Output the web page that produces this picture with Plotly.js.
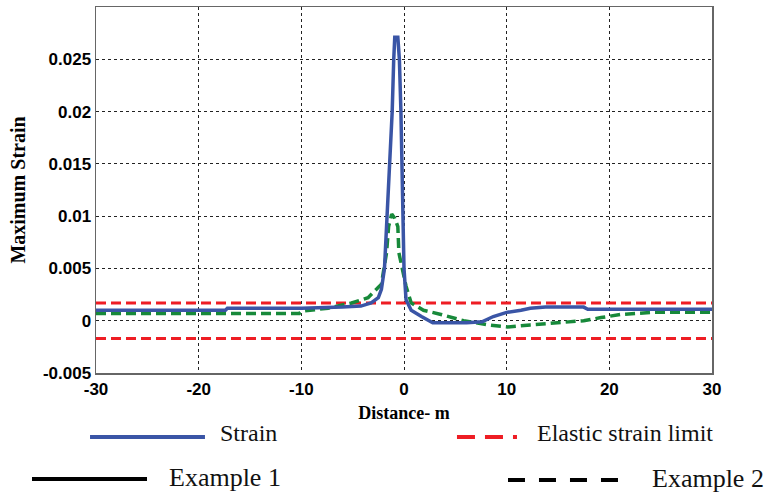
<!DOCTYPE html>
<html>
<head>
<meta charset="utf-8">
<script src="https://cdn.plot.ly/plotly-3.0.1.min.js"></script>
<style>html,body{margin:0;padding:0;background:#fff;}#chart{width:767px;height:492px;}</style>
</head>
<body>
<div id="chart"></div>
<script>
// Example 1 strain (blue solid)
const ex1Distance = [-30, -17.4, -17.2, -10, -6, -4.2, -3.2, -2.5, -2.2, -1.9, -1.65, -1.4, -1.15, -1.0, -0.9, -0.6, -0.45, -0.3, -0.2, -0.1, 0.0, 0.2, 0.7, 1.7, 2.8, 6.1, 7.6, 8.7, 10, 11.4, 12.3, 13.8, 17.5, 17.9, 30];
const ex1Strain   = [0.001, 0.001, 0.0012, 0.0012, 0.0013, 0.0014, 0.0017, 0.0022, 0.003, 0.005, 0.01, 0.015, 0.02, 0.025, 0.0271, 0.0271, 0.025, 0.02, 0.015, 0.01, 0.005, 0.002, 0.001, 0.0004, -0.0002, -0.0002, -0.0001, 0.0004, 0.0008, 0.001, 0.0012, 0.0013, 0.0013, 0.0011, 0.0011];
// Example 2 strain (green dashed)
const ex2Distance = [-30, -10.2, -10, -7.4, -5.1, -3.5, -2.2, -1.7, -1.5, -1.2, -0.9, -0.6, -0.5, -0.1, 0.2, 0.7, 1.9, 3.6, 5.8, 8.2, 10.1, 12.3, 14.6, 17.5, 19.2, 21.1, 24.3, 30];
const ex2Strain   = [0.0007, 0.0007, 0.0009, 0.0012, 0.0017, 0.0022, 0.0035, 0.0065, 0.009, 0.0102, 0.0098, 0.009, 0.0065, 0.0046, 0.0033, 0.0017, 0.001, 0.0006, 0, -0.0004, -0.0006, -0.0004, -0.0002, 0, 0.0003, 0.0006, 0.0008, 0.0008];
// Elastic strain limits
const limitDistance = [-30, 30];
const elasticLimits = [0.0017, -0.0017];
// Axis ticks
const xTickVals = [-30, -20, -10, 0, 10, 20, 30];
const xTickText = ['-30', '-20', '-10', '0', '10', '20', '30'];
const yTickVals = [-0.005, 0, 0.005, 0.01, 0.015, 0.02, 0.025];
const yTickText = ['-0.005', '0', '0.005', '0.01', '0.015', '0.02', '0.025'];
// Legend labels
const legendLabels = ['Strain', 'Elastic strain limit', 'Example 1', 'Example 2'];

const BLUE = '#3a55a6', GREEN = '#17893a', RED = '#ee1d24';

const traces = [];
elasticLimits.forEach(v => {
  traces.push({x: limitDistance, y: [v, v], mode: 'lines', showlegend: false,
    line: {color: RED, width: 3, dash: '10px,5px'}, hoverinfo: 'skip'});
});
traces.push({x: ex2Distance, y: ex2Strain, mode: 'lines', name: 'Example 2', showlegend: false,
  line: {color: GREEN, width: 3.5, dash: '10px,5px'}});
traces.push({x: ex1Distance, y: ex1Strain, mode: 'lines', name: 'Example 1', showlegend: false,
  line: {color: BLUE, width: 3.5}});

// legend (manual, in paper coordinates)
const legendItems = [
  {label: legendLabels[0], color: BLUE, dash: 'solid', x0: -0.0097, x1: 0.1769, y: -0.1749, tx: 0.198, ty: -0.1639, size: 24},
  {label: legendLabels[1], color: RED, dash: '18px,10px', x0: 0.586, x1: 0.6834, y: -0.1749, tx: 0.7127, ty: -0.1639, size: 24},
  {label: legendLabels[2], color: '#000', dash: 'solid', x0: -0.1039, x1: 0.0828, y: -0.2896, tx: 0.1153, ty: -0.2842, size: 26},
  {label: legendLabels[3], color: '#000', dash: '17px,14px', x0: 0.6688, x1: 0.8555, y: -0.2923, tx: 0.8994, ty: -0.2869, size: 26}
];
const shapes = legendItems.map(it => ({type: 'line', xref: 'paper', yref: 'paper',
  x0: it.x0, x1: it.x1, y0: it.y, y1: it.y, line: {color: it.color, width: 4, dash: it.dash}}));
const annotations = legendItems.map(it => ({xref: 'paper', yref: 'paper', x: it.tx, y: it.ty,
  xanchor: 'left', yanchor: 'middle', showarrow: false, text: it.label,
  font: {family: 'Liberation Serif, Times New Roman, serif', size: it.size, color: '#111'}}));

const tickFont = {family: 'Liberation Sans, Arial, sans-serif', size: 17, color: '#000', weight: 'bold'};
const titleFont = {family: 'Liberation Serif, Times New Roman, serif', size: 18, color: '#000', weight: 'bold'};

const layout = {
  width: 767, height: 492,
  margin: {l: 96, r: 55, t: 7, b: 119},
  paper_bgcolor: '#fff', plot_bgcolor: '#fff',
  showlegend: false,
  xaxis: {
    range: [-30, 30], tickvals: xTickVals, ticktext: xTickText,
    tickfont: tickFont, ticks: '', zeroline: false,
    showgrid: true, gridcolor: '#222', gridwidth: 1, griddash: '3px,3px',
    showline: true, linecolor: '#666', linewidth: 1.5, mirror: true,
    title: {text: 'Distance- m', font: titleFont, standoff: 8}
  },
  yaxis: {
    range: [-0.005, 0.03], tickvals: yTickVals, ticktext: yTickText,
    tickfont: tickFont, ticks: '', zeroline: false,
    showgrid: true, gridcolor: '#222', gridwidth: 1, griddash: '3px,3px',
    showline: true, linecolor: '#666', linewidth: 1.5, mirror: true,
    title: {text: 'Maximum Strain', font: Object.assign({}, titleFont, {size: 20}), standoff: 12}
  },
  shapes: shapes,
  annotations: annotations
};

Plotly.newPlot('chart', traces, layout, {displayModeBar: false, staticPlot: true});
</script>
</body>
</html>
